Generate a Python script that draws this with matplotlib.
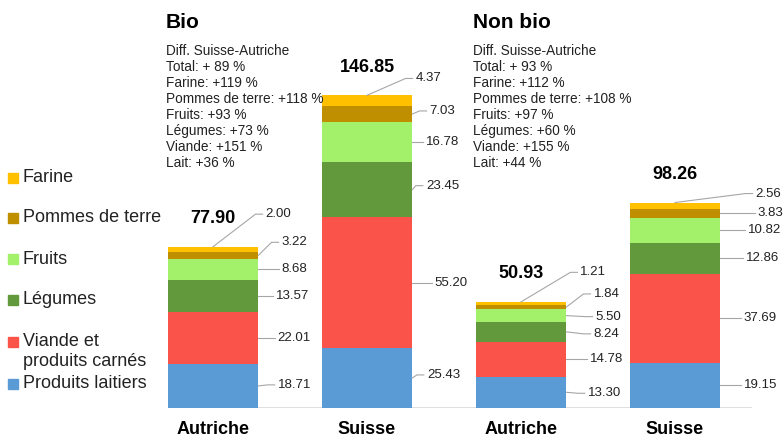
import matplotlib
matplotlib.use("Agg")
import matplotlib.pyplot as plt
from matplotlib.patches import Rectangle

plt.rcParams['font.family'] = ['Liberation Sans', 'DejaVu Sans']

# data
countries = ["Autriche", "Suisse", "Autriche", "Suisse"]
groups = ["Bio", "Non bio"]
categories = ["Produits laitiers", "Viande et\nproduits carnés", "Légumes",
              "Fruits", "Pommes de terre", "Farine"]
lait = [18.71, 25.43, 13.30, 19.15]
viande = [22.01, 55.20, 14.78, 37.69]
legumes = [13.57, 23.45, 8.24, 12.86]
fruits = [8.68, 16.78, 5.50, 10.82]
pommes = [3.22, 7.03, 1.84, 3.83]
farine = [2.00, 4.37, 1.21, 2.56]
totals = [77.90, 146.85, 50.93, 98.26]

diff_bio = ["Diff. Suisse-Autriche", "Total: + 89 %", "Farine: +119 %",
            "Pommes de terre: +118 %", "Fruits: +93 %", "Légumes: +73 %",
            "Viande: +151 %", "Lait: +36 %"]
diff_nonbio = ["Diff. Suisse-Autriche", "Total: + 93 %", "Farine: +112 %",
               "Pommes de terre: +108 %", "Fruits: +97 %", "Légumes: +60 %",
               "Viande: +155 %", "Lait: +44 %"]

series = [lait, viande, legumes, fruits, pommes, farine]
colors = ["#5B9BD5", "#FA5349", "#63993D", "#A3F06A", "#BF8F00", "#FFC000"]

# label placement (pixels, relative to bar right edge / segment middle)
label_dx = [[36, 36, 34, 36, 36, 20],
            [31, 39, 30, 30, 30, 16],
            [38, 40, 40, 42, 40, 27],
            [40, 40, 42, 44, 50, 48]]
label_dy = [[1, 0, 0, 0, 13, 35],
            [3, 0, 4, 0, 3, 22],
            [-1, 0, -2, -1, 13, 31],
            [0, 0, 0, 0, 0, 12]]

W, H = 784, 438
fig = plt.figure(figsize=(W / 100, H / 100), dpi=100)
ax = fig.add_axes([168 / W, 30 / H, 584 / W, 331 / H])
ax.set_xlim(-0.292, 3.5)
ax.set_ylim(0, 140)
for s in ax.spines.values():
    s.set_visible(False)
ax.set_yticks([])
pos = [0, 1, 2, 3]
width = 0.59
ax.set_xticks(pos, countries, fontsize=13, fontweight='bold')
ax.tick_params(length=0, pad=9)
ax.axhline(0, color="#D9D9D9", lw=1.2, zorder=1)

bottoms = [0, 0, 0, 0]
for vals, c in zip(series, colors):
    ax.bar(pos, vals, width, bottom=bottoms, color=c, zorder=2)
    bottoms = [b + v for b, v in zip(bottoms, vals)]

renderer = fig.canvas.get_renderer()
to_px = ax.transData.transform
to_data = ax.transData.inverted().transform

for i, x in enumerate(pos):
    bottom = 0
    for j, vals in enumerate(series):
        v = vals[i]
        right, my = to_px((x + width / 2, bottom + v / 2))
        if j == len(series) - 1:
            anchor = to_px((x, bottom + v))
        else:
            anchor = (right, my)
        tx = right + label_dx[i][j]
        ty = my + label_dy[i][j]
        t = ax.text(*to_data((tx, ty)), f"{v:.2f}", ha='center', va='center',
                    fontsize=9.5, color="#222222")
        left = t.get_window_extent(renderer).x0
        pts = [anchor, (left - 10, ty), (left - 3, ty)]
        if left - 10 <= anchor[0]:
            pts = [anchor, (left - 3, ty)]
        dpts = [to_data(p) for p in pts]
        ax.plot([p[0] for p in dpts], [p[1] for p in dpts], color="#A6A6A6",
                lw=0.8, clip_on=False, zorder=3)
        bottom += v
    ax.annotate(f"{totals[i]:.2f}", xy=(x, bottom), xytext=(0, 28),
                textcoords='offset pixels', ha='center', va='center',
                fontsize=13, fontweight='bold')

# group titles and difference notes
for gx, name, notes in [(166, groups[0], diff_bio), (473, groups[1], diff_nonbio)]:
    fig.text(gx / W, 1 - 22 / H, name, fontsize=15, fontweight='bold',
             ha='left', va='center')
    for k, line in enumerate(notes):
        fig.text(gx / W, 1 - (51 + 16 * k) / H, line, fontsize=9.8,
                 ha='left', va='center', color="#222222")

# legend drawn by hand (Excel style)
leg_y = [384, 342, 300, 259, 218, 178]
for cat, c, y in zip(categories, colors, leg_y):
    fig.patches.append(Rectangle((8 / W, 1 - (y + 5) / H), 10 / W, 10 / H,
                                 transform=fig.transFigure, color=c))
    for k, line in enumerate(cat.split("\n")):
        fig.text(23 / W, 1 - (y + 20 * k) / H, line, fontsize=13,
                 ha='left', va='center', color="#222222")

fig.savefig("out.png", dpi=100)
